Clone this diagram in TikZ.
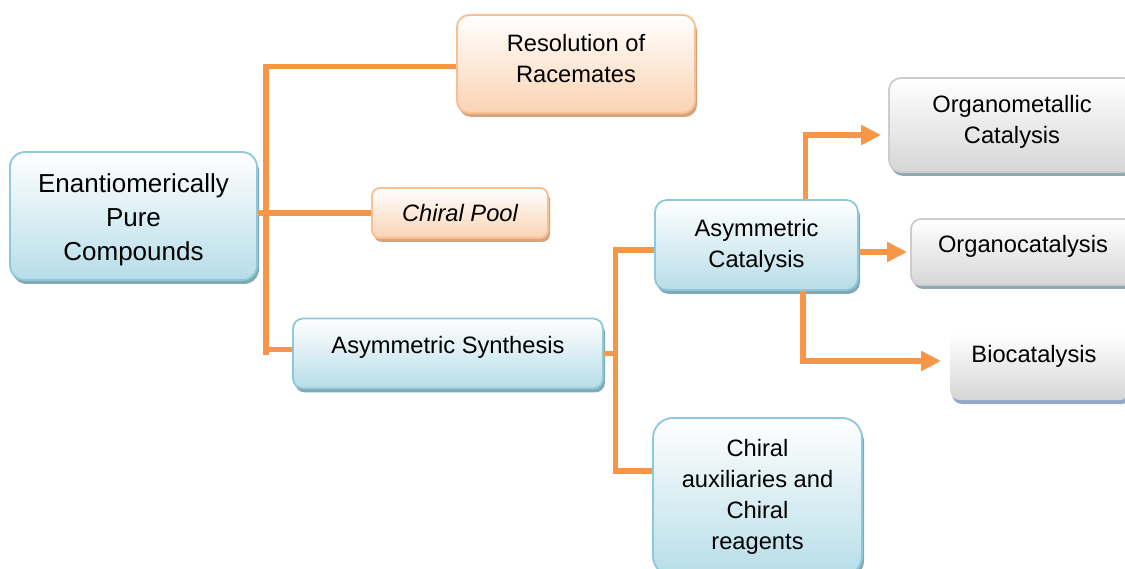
\documentclass[tikz,border=0pt]{standalone}
\usepackage{fontspec}
\setmainfont{Liberation Sans}
\usetikzlibrary{arrows.meta,shadows}
\definecolor{bluefill}{HTML}{B7DDE8}
\definecolor{bluedraw}{HTML}{8CC9DA}
\definecolor{blueshadow}{HTML}{80A8B5}
\definecolor{orangefill}{HTML}{FAD3B3}
\definecolor{orangedraw}{HTML}{F9BF8F}
\definecolor{orangeshadow}{HTML}{D5A582}
\definecolor{grayfill}{HTML}{D6D6D6}
\definecolor{graydraw}{HTML}{CDCDCD}
\definecolor{grayshadow}{HTML}{8EABB5}
\definecolor{bioshadow}{HTML}{93A8C6}
\definecolor{connc}{HTML}{F79646}
\newcommand\boxtext[2]{\raisebox{0pt}[\dimexpr\height-(#1)\relax][\dimexpr\depth+(#1)\relax]{\begin{tabular}{@{}c@{}}#2\end{tabular}}}
\tikzset{
  box/.style={inner sep=0pt, line width=1.8pt, align=center, font=\fontsize{23.7}{31}\selectfont},
  bluebox/.style={box, draw=bluedraw, top color=white, bottom color=bluefill,
    drop shadow={shadow xshift=2pt, shadow yshift=-4pt, fill=blueshadow, opacity=1}},
  orangebox/.style={box, draw=orangedraw, top color=white, bottom color=orangefill,
    drop shadow={shadow xshift=2pt, shadow yshift=-4pt, fill=orangeshadow, opacity=1}},
  graybox/.style={box, draw=graydraw, top color=white, bottom color=grayfill,
    drop shadow={shadow xshift=2pt, shadow yshift=-4pt, fill=grayshadow, opacity=1}},
  biobox/.style={box, top color=white, bottom color=grayfill,
    drop shadow={shadow xshift=2pt, shadow yshift=-4pt, fill=bioshadow, opacity=1}},
  conn/.style={draw=connc, line width=5.5pt},
  arr/.style={conn, -{Triangle[length=20pt,width=19pt]}},
}
\begin{document}
\begin{tikzpicture}[x=1pt,y=-1pt]
\useasboundingbox (0,0) rectangle (1125,569);
\fill[white] (0,0) rectangle (1125,569);
\clip (0,0) rectangle (1125,569);

% connector coordinates
\coordinate (j1) at (266,66.5);
\coordinate (j2) at (266,355);
\coordinate (k1) at (615.5,250);
\coordinate (k2) at (615.5,474);
\coordinate (k3) at (615.5,471);
\coordinate (a1) at (805.5,135);
\coordinate (a3) at (803,361);

% nodes
\node[bluebox, rounded corners=15pt, minimum width=247pt, minimum height=128pt,
      font=\fontsize{26}{34}\selectfont] (epc) at (133.5,216)
  {\boxtext{-4.2pt}{Enantiomerically\\Pure\\Compounds}};
\node[orangebox, rounded corners=12pt, minimum width=238pt, minimum height=98pt] (res) at (576,64)
  {\boxtext{2.7pt}{Resolution of\\Racemates}};
\node[orangebox, rounded corners=8pt, minimum width=176pt, minimum height=50pt] (pool) at (460,213)
  {\boxtext{-2.8pt}{\itshape Chiral Pool}};
\node[bluebox, rounded corners=10pt, minimum width=310pt, minimum height=70pt] (as) at (448,353.5)
  {\boxtext{5.7pt}{Asymmetric Synthesis}};
\node[bluebox, rounded corners=12pt, minimum width=203pt, minimum height=90pt] (ac) at (756.5,245)
  {\boxtext{-1.3pt}{Asymmetric\\Catalysis}};
\node[bluebox, rounded corners=20pt, minimum width=209pt, minimum height=158pt] (ca) at (757.5,497)
  {\boxtext{0pt}{Chiral\\auxiliaries and\\Chiral\\reagents}};
\node[graybox, rounded corners=12pt, minimum width=246pt, minimum height=94pt] (om) at (1012,125)
  {\boxtext{2.7pt}{Organometallic\\Catalysis}};
\node[graybox, rounded corners=10pt, minimum width=224pt, minimum height=66pt] (oc) at (1023,252)
  {\boxtext{5.2pt}{Organocatalysis}};
\node[biobox, rounded corners=10pt, minimum width=180pt, minimum height=67pt] (bio) at (1040,366.5)
  {\boxtext{9.7pt}{Biocatalysis\hspace{12pt}\mbox{}}};

% connectors
\draw[conn] (res.west |- j1) -- (j1) -- (j2);
\draw[conn] (epc.east |- pool.west) -- (pool.west);
\draw[conn] ([yshift=4pt]as.west) -- ([yshift=4pt]as.west -| j1);
\draw[conn] (ac.west |- k1) -- (k1) -- (k2);
\draw[conn] (as.east) -- (as.east -| k1);
\draw[conn] (k3) -- (ca.west |- k3);
\draw[arr, shorten >=7pt] (ac.north -| a1) -- (a1) -- (om.west |- a1);
\draw[arr, shorten >=3pt] (ac.east |- oc.west) -- (oc.west);
\draw[arr, shorten >=8pt] (ac.south -| a3) -- (a3) -- (bio.west |- a3);
\end{tikzpicture}
\end{document}
